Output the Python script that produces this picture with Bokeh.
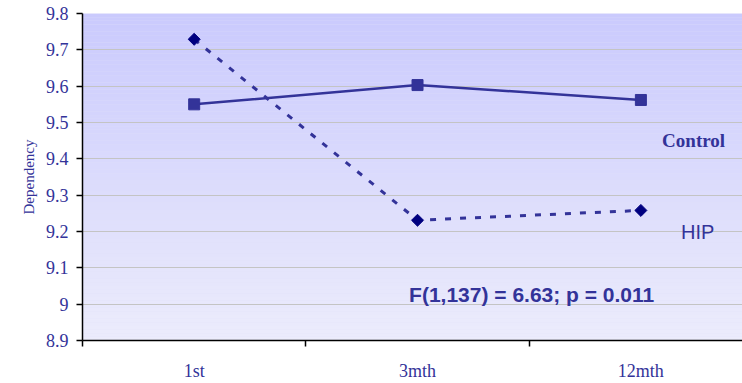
import math
from bokeh.plotting import figure
from bokeh.models import FixedTicker, ColumnDataSource
from bokeh.core.properties import value
from bokeh.embed import file_html
from bokeh.resources import INLINE

# ---- data ----
categories = ["1st", "3mth", "12mth"]
cat_pos = [0, 1, 2]
control = [9.55, 9.603, 9.562]
hip = [9.729, 9.231, 9.258]
y_ticks = [8.9, 9.0, 9.1, 9.2, 9.3, 9.4, 9.5, 9.6, 9.7, 9.8]
y_tick_labels = ["8.9", "9", "9.1", "9.2", "9.3", "9.4", "9.5", "9.6", "9.7", "9.8"]
x_boundaries = [-0.5, 0.5, 1.5, 2.5]
annotation = "F(1,137) = 6.63; p = 0.011"

SERIF = "Liberation Serif"
SANS = "Liberation Sans"
BLUE = "#333399"

p = figure(width=742, height=383, output_backend="svg", toolbar_location=None,
           x_range=(-0.5, 2.455), y_range=(8.9, 9.8),
           min_border_left=82, min_border_right=0, min_border_top=13, min_border_bottom=41)
p.outline_line_color = None
p.background_fill_color = "#e0e0f8"
p.border_fill_color = "white"

# gradient background via strips
n = 90
y0, y1 = 8.9, 9.8
top_c = (202, 202, 253)
bot_c = (236, 236, 252)
bottoms, tops, colors = [], [], []
for i in range(n):
    b = y0 + (y1 - y0) * i / n
    t = y0 + (y1 - y0) * (i + 1) / n
    f = (i + 0.5) / n
    c = tuple(int(round(bot_c[k] + (top_c[k] - bot_c[k]) * f)) for k in range(3))
    bottoms.append(b); tops.append(t); colors.append("#%02x%02x%02x" % c)
bg = p.quad(left=-0.5, right=2.5, bottom=bottoms, top=tops, fill_color=colors, line_color=None)
bg.level = "image"

# grid
p.xgrid.grid_line_color = None
p.ygrid.ticker = FixedTicker(ticks=y_ticks)
p.ygrid.grid_line_color = "#c4c4c4"
p.ygrid.grid_line_width = 1

# y axis
ya = p.yaxis[0]
ya.ticker = FixedTicker(ticks=y_ticks)
ya.major_label_overrides = {t: l for t, l in zip(y_ticks, y_tick_labels)}
ya.major_tick_out = 6
ya.major_tick_in = 0
ya.minor_tick_out = 0
ya.minor_tick_in = 0
ya.major_label_standoff = 8
ya.major_label_text_font = SERIF
ya.major_label_text_font_size = "18px"
ya.major_label_text_color = BLUE
ya.axis_line_color = "black"
ya.axis_line_width = 1.5
ya.major_tick_line_color = "black"
ya.major_tick_line_width = 1.5
ya.axis_label = "Dependency"
ya.axis_label_text_font = SERIF
ya.axis_label_text_font_size = "15px"
ya.axis_label_text_font_style = "normal"
ya.axis_label_text_color = BLUE
ya.axis_label_standoff = 6

# x axis
xa = p.xaxis[0]
xa.ticker = FixedTicker(ticks=cat_pos, minor_ticks=x_boundaries)
xa.major_label_overrides = {c: l for c, l in zip(cat_pos, categories)}
xa.major_tick_out = 0
xa.major_tick_in = 0
xa.minor_tick_out = 6
xa.minor_tick_in = 0
xa.minor_tick_line_color = "black"
xa.minor_tick_line_width = 1.5
xa.major_label_standoff = 14
xa.major_label_text_font = SERIF
xa.major_label_text_font_size = "18px"
xa.major_label_text_color = BLUE
xa.axis_line_color = "black"
xa.axis_line_width = 1.5

# series
src_c = ColumnDataSource(dict(x=cat_pos, y=control))
src_h = ColumnDataSource(dict(x=cat_pos, y=hip))
p.line("x", "y", source=src_c, line_color=BLUE, line_width=2.5)
p.scatter("x", "y", source=src_c, marker="square", size=11, fill_color=BLUE, line_color=BLUE)
p.line("x", "y", source=src_h, line_color=BLUE, line_width=3, line_dash="6 9")
p.scatter("x", "y", source=src_h, marker="square", angle=math.pi / 4, size=8.5,
          fill_color="#000080", line_color="#000080")

# text labels
p.text(x=[2.236], y=[9.45], text=["Control"], text_font=value(SERIF), text_font_style="bold",
       text_font_size="19px", text_color=BLUE, text_align="center", text_baseline="middle")
p.text(x=[2.254], y=[9.198], text=["HIP"], text_font=value(SANS),
       text_font_size="20px", text_color=BLUE, text_align="center", text_baseline="middle")
p.text(x=[1.511], y=[9.026], text=[annotation], text_font=value(SANS), text_font_style="bold",
       text_font_size="21px", text_color=BLUE, text_align="center", text_baseline="middle")

open("out.html", "w").write(file_html(p, INLINE))
